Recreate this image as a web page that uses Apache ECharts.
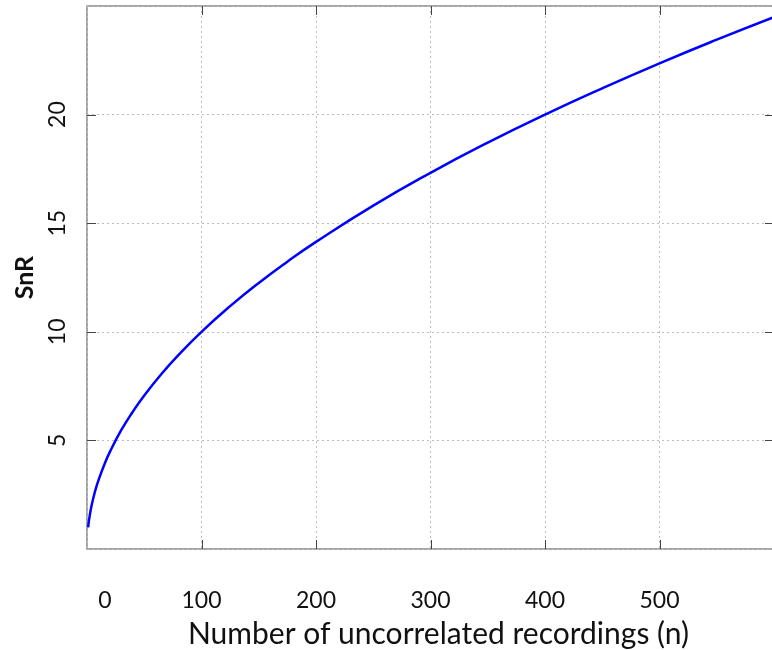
<!DOCTYPE html>
<html><head><meta charset="utf-8">
<script src="https://cdn.jsdelivr.net/npm/echarts@6/dist/echarts.min.js"></script>
<style>html,body{margin:0;padding:0;background:#fff}#c{width:772px;height:650px}</style>
</head><body><div id="c"></div>
<script>
const nValues = [1, 2, 4, 7, 10, 15, 20, 30, 40, 50, 65, 80, 100, 125, 150, 175, 200, 250, 300, 350, 400, 450, 500, 550, 600];
const snrValues = [1.0, 1.41, 2.0, 2.65, 3.16, 3.87, 4.47, 5.48, 6.32, 7.07, 8.06, 8.94, 10.0, 11.18, 12.25, 13.23, 14.14, 15.81, 17.32, 18.71, 20.0, 21.21, 22.36, 23.45, 24.49];
const xTicks = [0, 100, 200, 300, 400, 500];
const yTicks = [5, 10, 15, 20];
const xTitle = 'Number of uncorrelated recordings (n)';
const yTitle = 'SnR';

const font = 'Lato, "Open Sans", sans-serif';
const chart = echarts.init(document.getElementById('c'), null, {renderer: 'canvas'});
function gridLine() { return {show: true, lineStyle: {type: [2, 3], color: '#bdbdbd', width: 1}}; }
const X_MIN = 0, X_MAX = 600, Y_MIN = 0, Y_MAX = 25;
chart.setOption({
  animation: false,
  grid: {left: 87, width: 687, top: 6, height: 543, show: true, borderColor: '#888', borderWidth: 1.5,
         containLabel: false, outerBoundsMode: 'none'},
  xAxis: [{
    type: 'value', min: X_MIN, max: X_MAX, interval: 100, position: 'bottom',
    axisLine: {show: false}, axisTick: {show: false}, splitLine: gridLine(),
    axisLabel: {
      margin: 40, fontSize: 23, color: '#111', fontFamily: font,
      formatter: v => xTicks.includes(v) ? (v === 0 ? '{z|0}' : String(v)) : '',
      rich: {z: {fontSize: 23, fontFamily: font, color: '#111', padding: [0, 0, 0, 36]}}
    },
    name: xTitle, nameLocation: 'middle', nameGap: 70,
    nameTextStyle: {fontSize: 30, fontFamily: font, color: '#111', padding: [0, 0, 0, 16]}
  }],
  yAxis: [{
    type: 'value', min: Y_MIN, max: Y_MAX, interval: 5, position: 'left',
    axisLine: {show: false}, axisTick: {show: false}, splitLine: gridLine(),
    axisLabel: {
      margin: 18, rotate: 90, fontSize: 23, color: '#111', fontFamily: font,
      formatter: v => yTicks.includes(v) ? String(v) : ''
    },
    name: yTitle, nameLocation: 'middle', nameGap: 50, nameRotate: 90,
    nameTextStyle: {fontSize: 25, fontWeight: 'bold', fontFamily: font, color: '#111'}
  }],
  series: [{
    type: 'line', xAxisIndex: 0, yAxisIndex: 0, smooth: true, showSymbol: false, clip: true,
    lineStyle: {color: '#0000ff', width: 2.5},
    data: nValues.map((n, i) => [n, snrValues[i]])
  }]
});
// inward tick marks on all four sides, positioned through the chart's own scales
const TL = 9;
const tickStyle = {stroke: '#444', lineWidth: 1};
const els = [];
const yBottom = chart.convertToPixel({gridIndex: 0}, [X_MIN, Y_MIN])[1];
const yTop = chart.convertToPixel({gridIndex: 0}, [X_MIN, Y_MAX])[1];
const xLeft = chart.convertToPixel({gridIndex: 0}, [X_MIN, Y_MIN])[0];
const xRight = chart.convertToPixel({gridIndex: 0}, [X_MAX, Y_MIN])[0];
xTicks.filter(v => v > X_MIN).forEach(v => {
  const px = Math.round(chart.convertToPixel({gridIndex: 0}, [v, Y_MIN])[0]) + 0.5;
  els.push({type: 'line', silent: true, z: 10, shape: {x1: px, y1: yBottom, x2: px, y2: yBottom - TL}, style: tickStyle});
  els.push({type: 'line', silent: true, z: 10, shape: {x1: px, y1: yTop, x2: px, y2: yTop + TL}, style: tickStyle});
});
yTicks.forEach(v => {
  const py = Math.round(chart.convertToPixel({gridIndex: 0}, [X_MIN, v])[1]) + 0.5;
  els.push({type: 'line', silent: true, z: 10, shape: {x1: xLeft, y1: py, x2: xLeft + TL, y2: py}, style: tickStyle});
  els.push({type: 'line', silent: true, z: 10, shape: {x1: xRight, y1: py, x2: xRight - TL, y2: py}, style: tickStyle});
});
chart.setOption({graphic: els});
</script></body></html>
